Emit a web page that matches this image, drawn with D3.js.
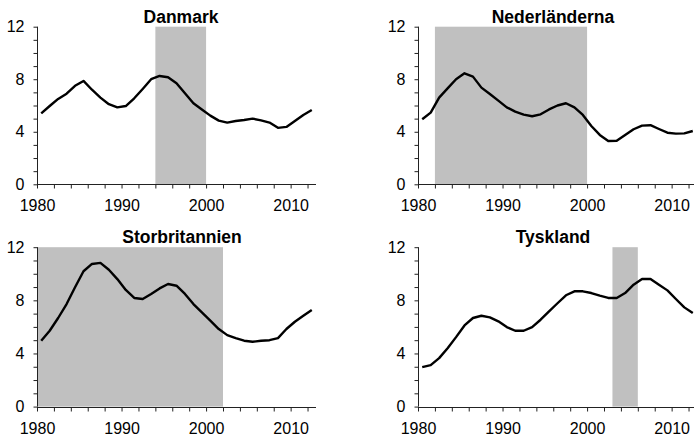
<!DOCTYPE html>
<html><head><meta charset="utf-8">
<script src="https://cdn.jsdelivr.net/npm/d3@7"></script>
<style>
html,body{margin:0;padding:0;background:#fff;overflow:hidden}
svg{display:block}
text{font-family:"Liberation Sans",Arial,sans-serif}
</style></head>
<body>
<script>
// ---- data ----
const years = d3.range(1980, 2013);
const countries = ["Danmark", "Nederländerna", "Storbritannien", "Tyskland"];
const danmark = [5.4,5.96,6.5,6.9,7.5,7.87,7.2,6.6,6.1,5.86,5.96,6.55,7.26,8.0,8.25,8.15,7.7,6.93,6.17,5.7,5.23,4.85,4.7,4.82,4.9,5.0,4.87,4.7,4.3,4.37,4.82,5.28,5.66];
const nederlanderna = [4.95,5.46,6.6,7.3,8.0,8.45,8.2,7.36,6.88,6.37,5.86,5.53,5.3,5.18,5.33,5.7,6.0,6.17,5.86,5.28,4.44,3.76,3.3,3.32,3.76,4.19,4.47,4.5,4.21,3.93,3.86,3.88,4.06];
const storbritannien = [4.96,5.71,6.67,7.72,8.98,10.19,10.74,10.82,10.3,9.6,8.78,8.18,8.1,8.48,8.9,9.23,9.1,8.48,7.72,7.09,6.47,5.84,5.38,5.16,4.96,4.88,4.96,5.0,5.16,5.84,6.39,6.84,7.27];
const tyskland = [2.97,3.12,3.65,4.4,5.23,6.11,6.67,6.84,6.72,6.42,5.99,5.71,5.71,5.99,6.54,7.17,7.78,8.38,8.68,8.68,8.55,8.35,8.18,8.18,8.55,9.18,9.61,9.61,9.18,8.75,8.1,7.47,7.04];
const shadeStart = [1994, 1982, 1980, 2003];
const shadeEnd = [2000, 2000, 2002, 2006];
const xTickLabels = [1980, 1990, 2000, 2010];
const yTickLabels = [0, 4, 8, 12];
const series = [danmark, nederlanderna, storbritannien, tyskland];

// ---- layout ----
const W = 694, H = 440;
const panels = [
  {x0: 37,  x1: 316, y0: 184.3, y1: 26.7, tx: 181, ty: 22.5},
  {x0: 418, x1: 697, y0: 184.3, y1: 26.7, tx: 553, ty: 22.5},
  {x0: 37,  x1: 316, y0: 406.6, y1: 247.2, tx: 182, ty: 242.5},
  {x0: 418, x1: 697, y0: 406.6, y1: 247.2, tx: 553, ty: 242.5}
];

const svg = d3.select("body").append("svg").attr("width", W).attr("height", H);

panels.forEach((p, k) => {
  const x = d3.scaleLinear().domain([1980, 2013]).range([p.x0, p.x1]);
  const y = d3.scaleLinear().domain([0, 12]).range([p.y0, p.y1]);
  const g = svg.append("g");

  // shaded period
  g.append("rect")
    .attr("x", x(shadeStart[k])).attr("y", y(12))
    .attr("width", x(shadeEnd[k]) - x(shadeStart[k]))
    .attr("height", y(0) - y(12))
    .attr("fill", "#c0c0c0");

  // y axis
  const ya = d3.axisLeft(y).tickValues(d3.range(0, 13, 1)).tickSize(4)
    .tickFormat(d => yTickLabels.includes(d) ? d : "");
  const yg = g.append("g").attr("transform", `translate(${Math.round(p.x0)+0.5},0)`).call(ya);
  yg.select(".domain").attr("stroke", "#222").attr("d", `M-0,${y(12)}V${y(0)}`);
  yg.selectAll(".tick line").attr("stroke", "#222");
  yg.selectAll(".tick text").attr("font-size", 16).attr("fill", "#000").attr("x", -13)
    .attr("font-family", "'Liberation Sans',Arial,sans-serif");

  // x axis
  const xa = d3.axisBottom(x).tickValues(d3.range(1980, 2013, 2)).tickSize(4)
    .tickFormat(d => xTickLabels.includes(d) ? d : "");
  const xg = g.append("g").attr("transform", `translate(0,${Math.round(p.y0)+0.5})`).call(xa);
  xg.select(".domain").attr("stroke", "#222").attr("d", `M${x(1980)},0H${x(2013)}`);
  xg.selectAll(".tick line").attr("stroke", "#222");
  xg.selectAll(".tick text").attr("font-size", 16).attr("fill", "#000").attr("y", 15)
    .attr("font-family", "'Liberation Sans',Arial,sans-serif");

  // line
  const line = d3.line().x((d, i) => x(years[i] + 0.5)).y(d => y(d));
  g.append("path").datum(series[k]).attr("d", line)
    .attr("fill", "none").attr("stroke", "#000").attr("stroke-width", 2.4)
    .attr("stroke-linejoin", "round");

  // title
  g.append("text").attr("x", p.tx).attr("y", p.ty).attr("text-anchor", "middle")
    .attr("font-size", 17.5).attr("font-weight", "bold").text(countries[k]);
});
</script>
</body></html>
